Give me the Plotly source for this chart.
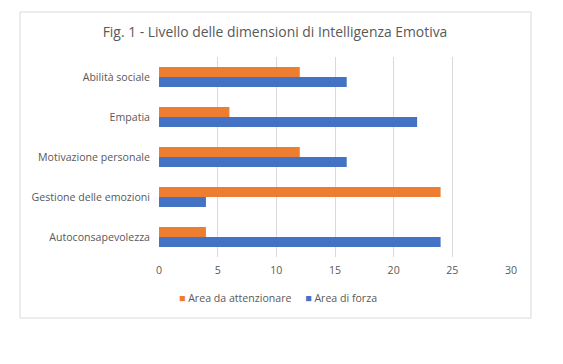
import plotly.graph_objects as go

categories = ["Autoconsapevolezza", "Gestione delle emozioni", "Motivazione personale", "Empatia", "Abilità sociale"]
area_forza = [24, 4, 16, 22, 16]
area_attenzionare = [4, 24, 12, 6, 12]
x_ticks = [0, 5, 10, 15, 20, 25, 30]

ORANGE = "#ED7D31"
BLUE = "#4472C4"
TXT = "#595959"

fig = go.Figure()
fig.add_trace(go.Bar(y=categories, x=area_forza, orientation="h", name="Area di forza",
                     marker=dict(color=BLUE, line=dict(width=0)), showlegend=False))
fig.add_trace(go.Bar(y=categories, x=area_attenzionare, orientation="h", name="Area da attenzionare",
                     marker=dict(color=ORANGE, line=dict(width=0)), showlegend=False))

# page body has an 8px margin; work in reference pixel coords minus 8
OFF = 8
W, H = 563 - OFF, 364 - OFF
l, r, t, b = 159 - OFF, 52, 57 - OFF, 107
pw, ph = W - l - r, H - t - b

def px(xp):
    return (xp - OFF - l) / pw

def py(yp):
    return (H - b - (yp - OFF)) / ph

legend_text = (f"<span style='color:{ORANGE}'>■</span> Area da attenzionare"
               f"&nbsp;&nbsp;&nbsp;&nbsp;&nbsp;<span style='color:{BLUE}'>■</span> Area di forza")

fig.update_layout(
    width=W, height=H,
    margin=dict(l=l, r=r, t=t, b=b, autoexpand=False),
    paper_bgcolor="white", plot_bgcolor="white",
    barmode="group", bargap=0.5, bargroupgap=0,
    font=dict(family="Open Sans, Liberation Sans, sans-serif", color=TXT, size=10.6),
    title=dict(text="Fig. 1 - Livello delle dimensioni di Intelligenza Emotiva",
               x=(275 - OFF) / W, xanchor="center", xref="container",
               y=1 - (32 - OFF) / H, yanchor="middle", yref="container",
               font=dict(size=13.9, color=TXT)),
    xaxis=dict(range=[0, 30], tickvals=x_ticks, showgrid=True, gridcolor="#D9D9D9", gridwidth=1,
               zeroline=False, showline=False, ticks="", ticklabelstandoff=5,
               tickfont=dict(size=10.6, color=TXT)),
    yaxis=dict(showgrid=False, showline=False, ticks="", ticklabelstandoff=8,
               tickfont=dict(size=10.6, color=TXT)),
    showlegend=False,
    annotations=[dict(text=legend_text, xref="paper", yref="paper", x=px(278), y=py(298),
                      xanchor="center", yanchor="middle", showarrow=False,
                      font=dict(size=10.6, color=TXT))],
    shapes=[dict(type="rect", xref="paper", yref="paper", x0=px(20), x1=px(531),
                 y0=py(12), y1=py(318), line=dict(color="#D9D9D9", width=1),
                 fillcolor="rgba(0,0,0,0)", layer="below")],
)

fig.write_html("out.html")
